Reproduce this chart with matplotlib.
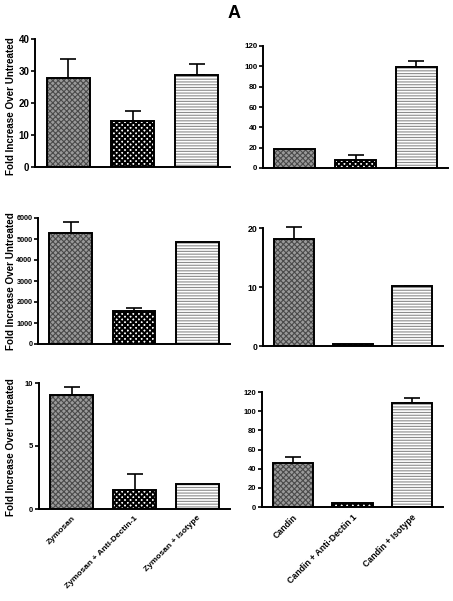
import matplotlib
matplotlib.use("Agg")
import matplotlib.pyplot as plt
import numpy as np

plt.rcParams['font.family'] = ['Liberation Sans', 'DejaVu Sans']
plt.rcParams['font.weight'] = 'bold'

zym_labels = ["Zymosan", "Zymosan + Anti-Dectin-1", "Zymosan + Isotype"]
can_labels = ["Candin", "Candin + Anti-Dectin 1", "Candin + Isotype"]
ylabel_text = "Fold Increase Over Untreated"

tl_vals = [27.8, 14.4, 28.6]
tl_err = [6.1, 3.2, 3.5]
tr_vals = [18.3, 8.2, 99.5]
tr_err = [0.0, 4.5, 5.8]
ml_vals = [5300, 1580, 4840]
ml_err = [510, 140, 0]
mr_vals = [18.1, 0.3, 10.1]
mr_err = [2.1, 0.0, 0.15]
bl_vals = [9.05, 1.51, 2.01]
bl_err = [0.63, 1.24, 0.0]
br_vals = [46.3, 3.8, 108.2]
br_err = [5.6, 0.0, 5.6]

W, H = 453, 601
fig = plt.figure(figsize=(W / 100, H / 100), dpi=100)

def add_ax(left, right, top, bottom):
    return fig.add_axes([left / W, 1 - bottom / H, (right - left) / W, (bottom - top) / H])

styles = [
    dict(face='#9a9a9a', hatch='xxxxxx', hcol='#4a4a4a', hlw=0.8),
    dict(face='white', hatch='xxxxxx', hcol='black', hlw=1.5),
    dict(face='white', hatch='------', hcol='#8c8c8c', hlw=0.8),
]

def panel(ax, vals, errs, ymax, yticks, tsize, labels=None, lsize=6):
    x = np.arange(3)
    for i in range(3):
        st = styles[i]
        with plt.rc_context({'hatch.linewidth': st['hlw'], 'hatch.color': st['hcol']}):
            ax.bar(x[i], vals[i], width=0.68, color=st['face'], hatch=st['hatch'],
                   edgecolor=st['hcol'], linewidth=0, zorder=2)
        ax.bar(x[i], vals[i], width=0.68, fill=False, edgecolor='black', linewidth=1.4, zorder=3)
        if errs[i] > 0:
            eb = ax.errorbar(x[i], vals[i], yerr=[[0], [errs[i]]], fmt='none', ecolor='black',
                             elinewidth=1.2, capsize=5.5, capthick=1.2, zorder=1)
            for art in eb.lines[1] + eb.lines[2]:
                art.set_clip_on(False)
    ax.set_xlim(-0.52, 2.52)
    ax.set_ylim(0, ymax)
    ax.set_yticks(yticks)
    ax.tick_params(axis='y', direction='out', length=3, width=1.2, labelsize=tsize, pad=1)
    for lab in ax.get_yticklabels():
        lab.set_fontweight('bold')
    for s in ['top', 'right']:
        ax.spines[s].set_visible(False)
    for s in ['left', 'bottom']:
        ax.spines[s].set_linewidth(1.4)
    if labels is not None:
        ax.set_xticks(x)
        ax.set_xticklabels(labels, rotation=45, ha='right', rotation_mode='anchor',
                           fontsize=lsize, fontweight='bold')
        ax.tick_params(axis='x', length=0, pad=4)
    else:
        ax.set_xticks([])

ax1 = add_ax(35, 230, 39, 167)
panel(ax1, tl_vals, tl_err, 40, [0, 10, 20, 30, 40], 7)
ax2 = add_ax(263, 448, 46, 168)
panel(ax2, tr_vals, tr_err, 120, [0, 20, 40, 60, 80, 100, 120], 5.7)
ax3 = add_ax(38, 230, 218, 344)
panel(ax3, ml_vals, ml_err, 6000, [0, 1000, 2000, 3000, 4000, 5000, 6000], 5.2)
ax4 = add_ax(263, 443, 228, 346)
panel(ax4, mr_vals, mr_err, 20, [0, 10, 20], 6.3)
ax5 = add_ax(39, 230, 383, 509)
panel(ax5, bl_vals, bl_err, 10, [0, 5, 10], 5.5, labels=zym_labels, lsize=6)
ax6 = add_ax(262, 443, 392, 507)
panel(ax6, br_vals, br_err, 120, [0, 20, 40, 60, 80, 100, 120], 5.5, labels=can_labels, lsize=6.3)

for yc in [106, 281, 447]:
    fig.text(11 / W, 1 - yc / H, ylabel_text, rotation=90, ha='center', va='center',
             fontsize=7.1, fontweight='bold')

fig.text(234 / W, 1 - 14 / H, "A", fontsize=13, fontweight='bold', ha='center', va='center')

fig.savefig("out.png", dpi=100)
